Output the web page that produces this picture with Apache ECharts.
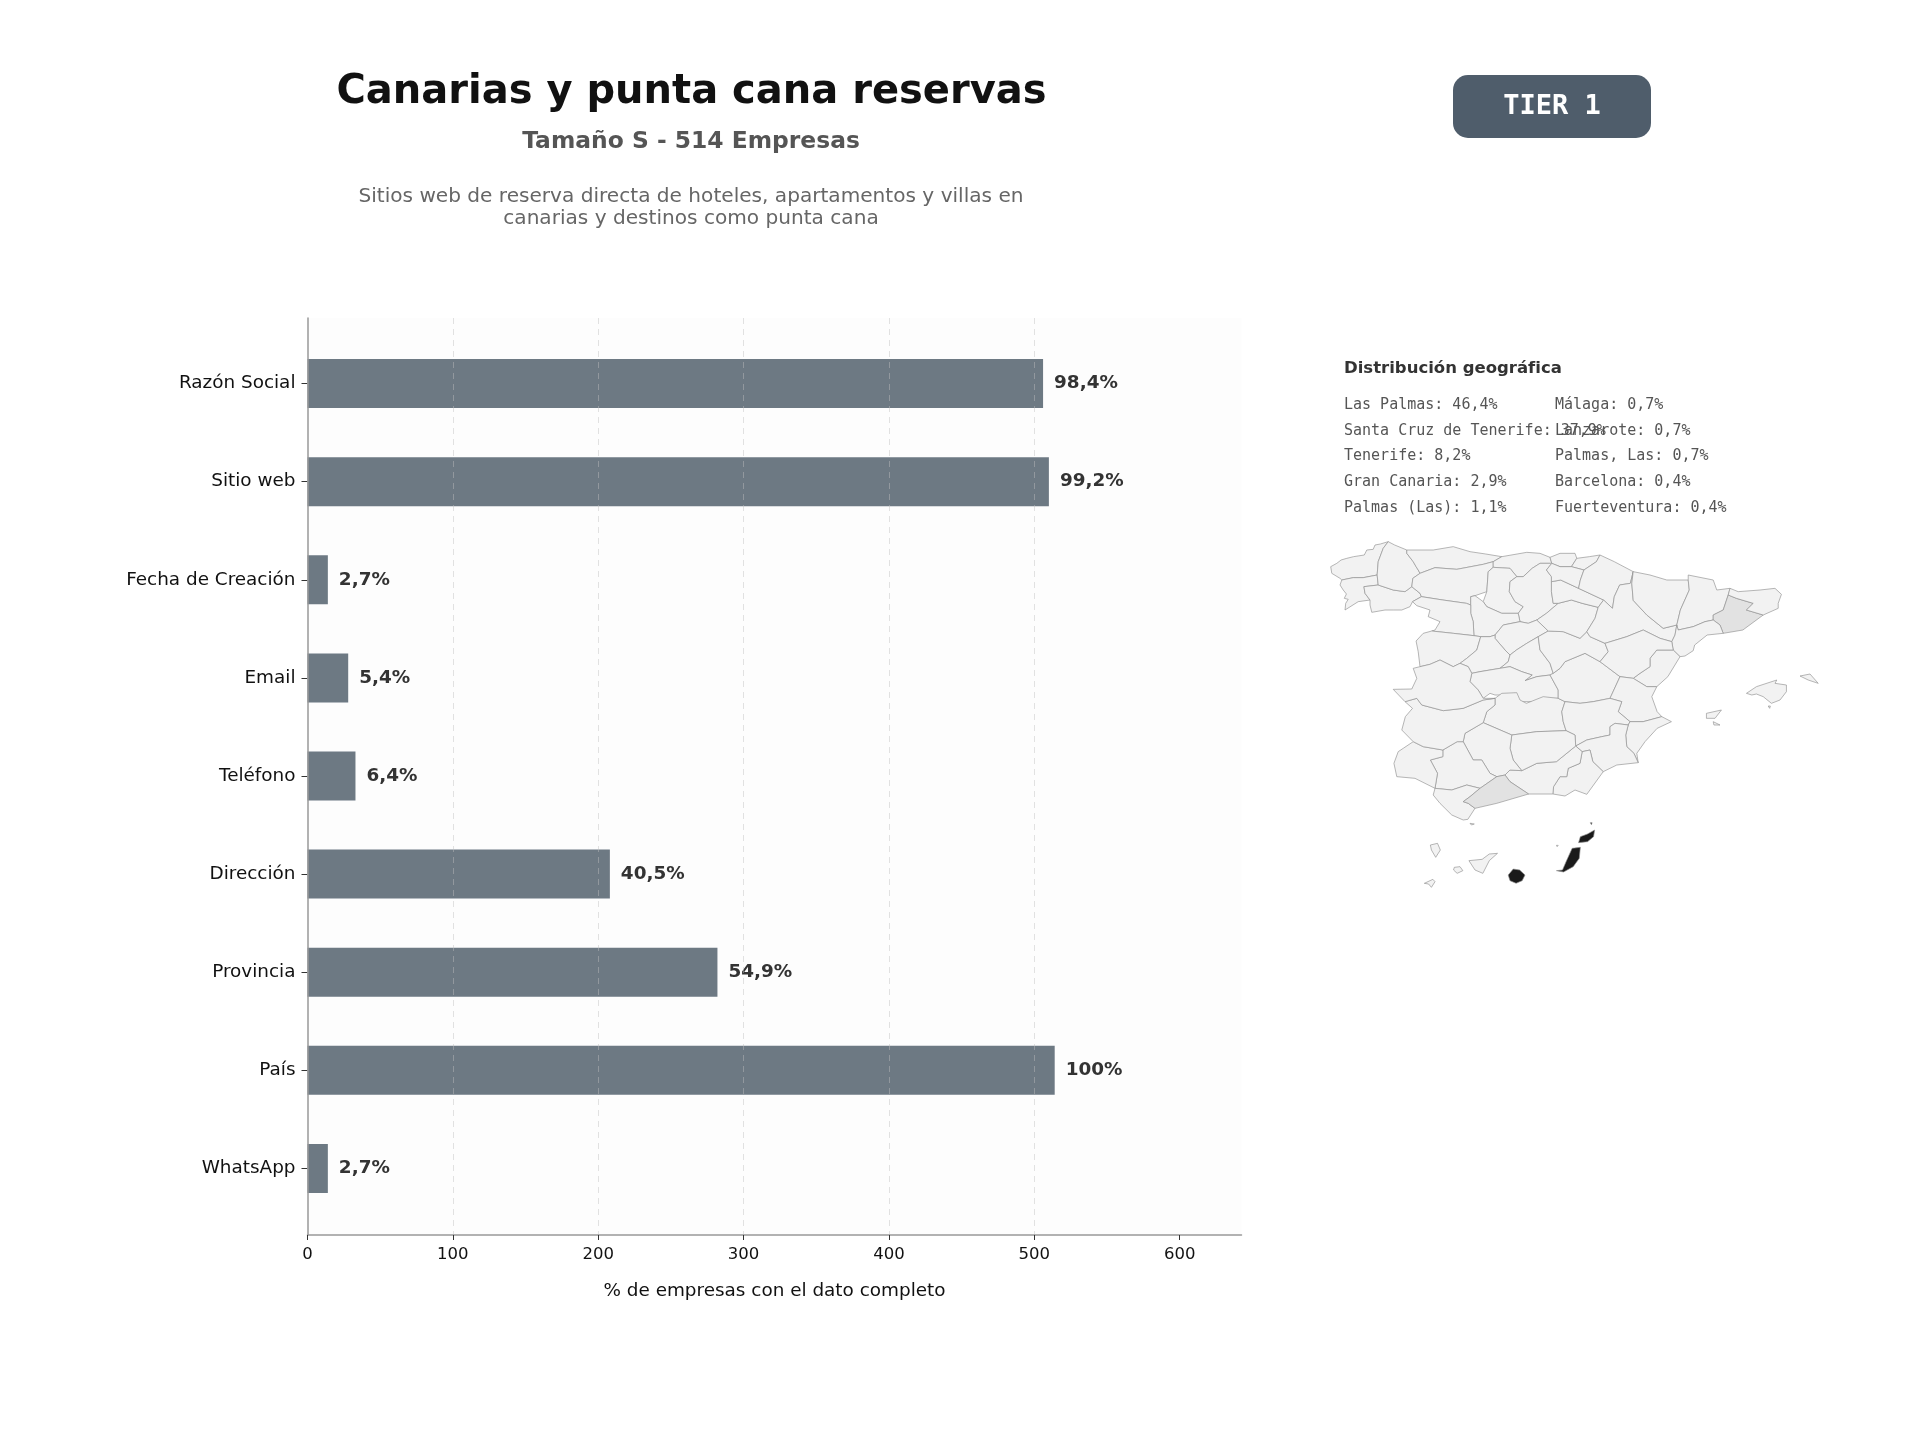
<!DOCTYPE html>
<html lang="es">
<head>
<meta charset="utf-8">
<title>Canarias y punta cana reservas</title>
<style>html,body{margin:0;padding:0;background:#fff}#chart{width:1920px;height:1440px}</style>
<script src="https://cdn.jsdelivr.net/npm/echarts@6/dist/echarts.min.js"></script>
</head>
<body>
<div id="chart"></div>
<script>
// Field coverage
const totalCompanies = 514;
const fieldNames = ['Razón Social','Sitio web','Fecha de Creación','Email','Teléfono','Dirección','Provincia','País','WhatsApp'];
const fieldCounts = [506,510,14,28,33,208,282,514,14];
const axisTicks = [0,100,200,300,400,500,600];

// Geographic distribution, two columns of text
const geoLeftNames = ['Las Palmas','Santa Cruz de Tenerife','Tenerife','Gran Canaria','Palmas (Las)'];
const geoLeftShares = ['46,4','37,9','8,2','2,9','1,1'];
const geoRightNames = ['Málaga','Lanzarote','Palmas, Las','Barcelona','Fuerteventura'];
const geoRightShares = ['0,7','0,7','0,7','0,4','0,4'];

// Provinces shaded on the map
const shadedProvinces = ['Las Palmas','Málaga','Barcelona'];
const shadedShares = [46.4,0.7,0.4];

// Simplified province outlines in map units (x east, y south); each entry is a list of rings
const provinces = {
'A Coruña':[[[247,65],[225,72],[210,75],[205,88],[187,90],[180,105],[150,110],[131,115],[115,120],[103,130],[86,140],[89,160],[112,175],[117,180],[149,173],[177,173],[216,165],[219,125],[233,85]]],
'Pontevedra':[[[117,180],[112,195],[121,210],[130,222],[124,235],[135,238],[128,250],[126,270],[163,245],[196,240],[182,220],[179,200],[219,195],[216,165],[177,173],[149,173]]],
'Ourense':[[[179,200],[219,195],[261,210],[294,215],[313,200],[336,220],[340,230],[315,245],[308,260],[285,270],[261,270],[238,270],[201,277],[196,255],[196,240],[182,220]]],
'Lugo':[[[247,65],[265,75],[299,90],[299,100],[317,125],[325,140],[331,150],[336,160],[316,175],[313,200],[294,215],[261,210],[219,195],[216,165],[219,125],[233,85]]],
'Asturias':[[[299,90],[373,90],[429,80],[476,95],[520,102],[565,110],[541,125],[513,133],[439,148],[378,143],[336,160],[331,150],[325,140],[317,125],[299,100]]],
'León':[[[336,160],[378,143],[439,148],[513,133],[541,125],[541,142],[527,155],[523,215],[490,227],[478,230],[478,255],[466,250],[400,240],[340,230],[336,220],[313,200],[316,175]]],
'Cantabria':[[[565,110],[635,97],[672,100],[700,112],[705,130],[672,130],[650,145],[625,170],[607,170],[588,145],[541,142],[541,125]]],
'Palencia':[[[541,142],[588,145],[607,170],[588,185],[586,215],[602,245],[625,260],[611,280],[565,280],[523,260],[513,245],[523,215],[527,155]]],
'Burgos':[[[625,170],[650,145],[672,130],[705,130],[690,150],[704,170],[704,185],[704,215],[709,250],[723,250],[690,280],[663,300],[639,310],[616,305],[611,280],[625,260],[602,245],[586,215],[588,185],[607,170]]],
'Valladolid':[[[478,230],[490,227],[513,245],[523,260],[565,280],[611,280],[616,305],[569,315],[546,345],[532,350],[506,350],[487,347],[485,305],[478,280],[478,255]]],
'Zamora':[[[315,245],[340,230],[400,240],[466,250],[478,255],[478,280],[485,305],[487,347],[429,340],[369,333],[378,330],[392,305],[359,290],[364,270],[327,257]]],
'Salamanca':[[[369,333],[429,340],[487,347],[506,350],[495,390],[467,415],[448,430],[429,440],[392,420],[364,433],[336,440],[331,395],[325,363],[345,340]]],
'Segovia':[[[616,305],[639,310],[663,300],[695,333],[667,350],[635,370],[606,390],[588,405],[574,390],[546,355],[546,345],[569,315]]],
'Ávila':[[[546,355],[574,390],[588,405],[583,425],[560,445],[504,455],[481,460],[471,440],[448,430],[467,415],[495,390],[506,350],[532,350],[546,345]]],
'Madrid':[[[667,350],[672,390],[700,430],[709,460],[700,465],[663,470],[630,482],[650,465],[621,455],[588,440],[560,445],[583,425],[588,405],[606,390],[635,370]]],
'Toledo':[[[481,460],[504,455],[560,445],[588,440],[621,455],[650,465],[630,482],[663,470],[700,465],[723,510],[723,535],[690,535],[653,545],[611,545],[602,520],[565,525],[546,525],[532,520],[513,535],[499,510],[476,485]]],
'Ciudad Real':[[[546,535],[565,520],[607,518],[616,540],[634,550],[681,530],[723,535],[742,545],[733,575],[737,605],[745,632],[663,635],[593,645],[513,608],[523,575],[546,555]]],
'Cuenca':[[[709,460],[728,445],[742,425],[798,400],[840,425],[896,470],[868,535],[821,545],[784,550],[742,545],[723,535],[723,510],[700,465]]],
'Guadalajara':[[[667,350],[695,333],[737,335],[784,355],[803,335],[812,350],[854,370],[863,395],[840,425],[798,400],[742,425],[728,445],[709,460],[700,430],[672,390]]],
'Soria':[[[663,300],[690,280],[723,250],[760,240],[790,250],[835,262],[826,295],[803,335],[784,355],[737,335],[695,333]]],
'La Rioja':[[[704,185],[730,180],[780,205],[850,240],[835,262],[790,250],[760,240],[723,250],[709,250],[704,215]]],
'Bizkaia':[[[700,112],[728,100],[770,100],[775,115],[760,140],[728,140],[705,130]]],
'Gipuzkoa':[[[775,115],[810,110],[840,105],[830,125],[795,150],[760,140]]],
'Álava':[[[705,130],[728,140],[760,140],[795,150],[785,180],[780,205],[730,180],[704,185],[704,170],[690,150]]],
'Navarra':[[[840,105],[880,125],[933,155],[925,190],[895,195],[880,230],[875,265],[850,240],[780,205],[785,180],[795,150],[830,125]]],
'Zaragoza':[[[933,155],[925,190],[895,195],[880,230],[875,265],[850,240],[835,262],[826,295],[803,335],[812,350],[854,370],[915,350],[961,330],[1008,355],[1041,365],[1050,345],[1055,315],[1017,325],[971,285],[933,241],[929,190]]],
'Huesca':[[[933,155],[980,165],[1027,180],[1087,180],[1090,210],[1065,270],[1055,315],[1017,325],[971,285],[933,241],[929,190]]],
'Lleida':[[[1087,165],[1157,180],[1167,210],[1204,205],[1199,225],[1185,270],[1157,285],[1157,300],[1134,305],[1101,320],[1059,330],[1055,315],[1065,270],[1090,210],[1087,180]]],
'Barcelona':[[[1199,225],[1222,235],[1269,250],[1250,270],[1297,285],[1240,330],[1185,340],[1176,315],[1157,300],[1157,285],[1185,270]]],
'Girona':[[[1204,205],[1227,215],[1288,210],[1330,205],[1348,223],[1339,250],[1339,265],[1297,285],[1250,270],[1269,250],[1222,235],[1199,225]]],
'Tarragona':[[[1059,330],[1101,320],[1134,305],[1157,300],[1176,315],[1185,340],[1140,345],[1105,375],[1101,392],[1078,408],[1064,410],[1045,390],[1041,365],[1050,345],[1055,315]]],
'Castellón':[[[1045,390],[999,390],[980,415],[980,440],[952,460],[933,475],[971,500],[999,500],[1030,470],[1064,410]]],
'Teruel':[[[854,370],[915,350],[961,330],[1008,355],[1041,365],[1045,390],[999,390],[980,415],[980,440],[952,460],[933,475],[896,470],[840,425],[863,395]]],
'Valencia':[[[896,470],[933,475],[971,500],[999,500],[985,530],[1000,575],[1013,590],[961,605],[924,605],[891,575],[901,545],[868,535]]],
'Albacete':[[[742,545],[784,550],[821,545],[868,535],[901,545],[891,575],[924,605],[919,615],[882,610],[868,620],[868,645],[845,650],[803,660],[772,678],[770,645],[745,632],[737,605],[733,575]]],
'Alicante':[[[924,605],[961,605],[1013,590],[1040,605],[1000,625],[966,665],[943,700],[947,728],[935,700],[915,680],[912,645],[919,615]]],
'Murcia':[[[919,615],[912,645],[915,680],[935,700],[947,728],[887,735],[849,755],[820,725],[812,690],[790,695],[772,678],[803,660],[845,650],[868,645],[868,620],[882,610]]],
'Almería':[[[790,695],[812,690],[820,725],[849,755],[803,823],[770,810],[742,828],[708,822],[710,800],[728,770],[747,770],[751,745],[784,730]]],
'Granada':[[[588,750],[621,752],[663,730],[718,725],[772,678],[790,695],[784,730],[751,745],[747,770],[728,770],[710,800],[708,822],[640,822],[588,785],[574,765]]],
'Jaén':[[[593,645],[663,635],[745,632],[770,645],[772,678],[718,725],[663,730],[621,752],[597,720],[588,685]]],
'Córdoba':[[[513,608],[593,645],[588,685],[597,720],[621,752],[588,750],[574,765],[551,770],[532,760],[509,720],[485,720],[457,665],[462,640]]],
'Sevilla':[[[400,690],[440,665],[457,665],[485,720],[509,720],[532,760],[551,770],[504,805],[467,795],[425,810],[378,805],[385,760],[365,720],[400,710]]],
'Huelva':[[[317,665],[345,680],[400,690],[400,710],[365,720],[385,760],[378,805],[322,775],[271,770],[263,730],[275,695],[289,685]]],
'Badajoz':[[[294,545],[327,535],[341,555],[401,572],[457,565],[513,540],[546,535],[546,555],[523,575],[513,608],[462,640],[457,665],[440,665],[400,690],[345,680],[317,665],[285,630],[295,590],[315,565]]],
'Cáceres':[[[261,508],[313,507],[327,475],[317,445],[336,440],[364,433],[392,420],[429,440],[448,430],[471,440],[481,460],[476,485],[499,510],[513,535],[546,535],[513,540],[457,565],[401,572],[341,555],[327,535],[294,545]]],
'Cádiz':[[[378,805],[425,810],[467,795],[504,805],[476,830],[457,845],[471,850],[490,865],[470,898],[457,900],[425,885],[392,850],[373,825]]],
'Málaga':[[[504,805],[551,770],[574,765],[588,785],[640,822],[551,850],[490,865],[471,850],[457,845],[476,830]]],
'Baleares':[
  [[1250,520],[1278,500],[1335,480],[1330,490],[1362,495],[1362,515],[1344,540],[1320,550],[1297,530],[1278,522],[1265,525]],
  [[1400,468],[1428,462],[1451,490],[1423,480]],
  [[1138,580],[1180,570],[1162,595],[1138,595]],
  [[1157,605],[1176,615],[1159,615]],
  [[1311,558],[1317,558],[1315,565]]],
'Ceuta':[[[476,910],[488,912],[480,915]]],
'Melilla':[[[718,976],[723,976],[720,980]]],
'Santa Cruz de Tenerife':[
  [[365,975],[385,970],[393,990],[380,1012],[368,990]],
  [[432,1042],[448,1040],[456,1052],[440,1060],[430,1050]],
  [[473,1022],[510,1018],[530,1002],[553,1000],[530,1022],[512,1060],[490,1050]],
  [[348,1090],[372,1078],[378,1085],[368,1102],[360,1092]]],
'Las Palmas':[
  [[583,1065],[597,1047],[615,1050],[630,1065],[622,1082],[605,1090],[588,1082]],
  [[718,1052],[735,1050],[745,1025],[762,985],[785,982],[782,1015],[765,1040],[738,1056]],
  [[780,968],[785,950],[805,942],[825,930],[822,950],[805,965]],
  [[813,908],[818,908],[816,914]]]
};

const toFeature = (name, rings) => ({
  type: 'Feature',
  properties: { name },
  geometry: {
    type: 'MultiPolygon',
    coordinates: rings.map(r => [r.map(p => [p[0], -p[1]])])
  }
});
echarts.registerMap('provincias', {
  type: 'FeatureCollection',
  features: Object.keys(provinces).map(n => toFeature(n, provinces[n]))
});

const pctLabel = c => {
  const p = c / totalCompanies * 100;
  return (p === 100 ? '100' : p.toFixed(1).replace('.', ',')) + '%';
};
const shadeFor = v => (v >= 10 ? '#1a1a1a' : '#e2e2e2');

const sans = '"DejaVu Sans"';
const mono = '"DejaVu Sans Mono"';

const listText = (names, shares, x, ys) => names.map((n, i) => ({
  type: 'text', x, y: ys[i], silent: true,
  style: { text: n + ': ' + shares[i] + '%', font: '15px ' + mono, fill: '#555', textVerticalAlign: 'middle' }
}));
const rowsY = [405, 431, 456, 482, 508];

const chart = echarts.init(document.getElementById('chart'), null, { renderer: 'canvas', width: 1920, height: 1440 });
chart.setOption({
  backgroundColor: '#ffffff',
  animation: false,
  title: [
    { text: 'Canarias y punta cana reservas', left: 686.5, top: 88, textAlign: 'center', textVerticalAlign: 'middle',
      textStyle: { fontFamily: sans, fontSize: 40, fontWeight: 'bold', color: '#111' } },
    { text: 'Tamaño S - 514 Empresas', left: 686, top: 137, textAlign: 'center', textVerticalAlign: 'middle',
      textStyle: { fontFamily: sans, fontSize: 23.4, fontWeight: 'bold', color: '#555' } }
  ],
  grid: [
    { left: 307.5, width: 934, top: 318, height: 917, show: true, backgroundColor: '#fdfdfd', borderWidth: 0 },
    { left: 307.5, width: 934, top: 334.5, height: 883 }
  ],
  xAxis: [
    { gridIndex: 0, type: 'value', min: 0, max: 642.5, interval: 100, z: 3,
      axisLine: { show: true, onZero: false, lineStyle: { color: '#999', width: 1.5 } },
      axisTick: { show: true, length: 5, customValues: axisTicks, lineStyle: { color: '#333', width: 1 } },
      axisLabel: { fontFamily: sans, fontSize: 16.5, color: '#111', margin: 11, customValues: axisTicks },
      splitLine: { show: true, showMinLine: false, showMaxLine: false, lineStyle: { type: [6, 5], color: 'rgba(190,190,190,0.45)', width: 1 } },
      name: '% de empresas con el dato completo', nameLocation: 'middle', nameGap: 47,
      nameTextStyle: { fontFamily: sans, fontSize: 18.4, color: '#111' } },
    { gridIndex: 1, type: 'value', min: 0, max: 642.5, show: false, splitLine: { show: false } }
  ],
  yAxis: [
    { gridIndex: 0, type: 'value', min: 0, max: 1, z: 3,
      axisLine: { show: true, lineStyle: { color: '#999', width: 1.5 } },
      axisTick: { show: false }, axisLabel: { show: false }, splitLine: { show: false } },
    { gridIndex: 1, type: 'category', inverse: true, data: fieldNames,
      axisLine: { show: false },
      axisTick: { show: true, alignWithLabel: true, length: 6, lineStyle: { color: '#333', width: 1 } },
      axisLabel: { fontFamily: sans, fontSize: 18.4, color: '#111', margin: 12, padding: [5, 0, 0, 0] },
      splitLine: { show: false } }
  ],
  series: [
    { type: 'bar', xAxisIndex: 1, yAxisIndex: 1, data: fieldCounts, barWidth: 49,
      itemStyle: { color: '#6d7983' }, silent: true,
      label: { show: true, position: 'right', distance: 11, formatter: p => pctLabel(p.value),
        fontFamily: sans, fontSize: 18.4, fontWeight: 'bold', color: '#333' } },
    { type: 'map', map: 'provincias', left: 1300, top: 520, width: 560, height: 380,
      boundingCoords: [[0, 0], [1568, -1140]], aspectScale: 1.0714, silent: true,
      label: { show: false },
      itemStyle: { areaColor: '#f2f2f2', borderColor: '#909090', borderWidth: 0.65 },
      data: shadedProvinces.map((name, i) => ({
        name, value: shadedShares[i], itemStyle: { areaColor: shadeFor(shadedShares[i]) }
      })) }
  ],
  graphic: [
    { type: 'rect', silent: true, shape: { x: 1453, y: 75, width: 198, height: 63, r: 15 },
      style: { fill: '#4f5d6b' } },
    { type: 'text', x: 1552, y: 106.5, silent: true,
      style: { text: 'TIER 1', font: 'bold 27px ' + mono, fill: '#fff', textAlign: 'center', textVerticalAlign: 'middle' } },
    { type: 'text', x: 691, y: 197, silent: true,
      style: { text: 'Sitios web de reserva directa de hoteles, apartamentos y villas en', font: '20.1px ' + sans, fill: '#666', textAlign: 'center', textVerticalAlign: 'middle' } },
    { type: 'text', x: 691, y: 219, silent: true,
      style: { text: 'canarias y destinos como punta cana', font: '20.1px ' + sans, fill: '#666', textAlign: 'center', textVerticalAlign: 'middle' } },
    { type: 'text', x: 1344, y: 369, silent: true,
      style: { text: 'Distribución geográfica', font: 'bold 16.5px ' + sans, fill: '#333', textVerticalAlign: 'middle' } },
    ...listText(geoLeftNames, geoLeftShares, 1344, rowsY),
    ...listText(geoRightNames, geoRightShares, 1555, rowsY)
  ]
});
</script>
</body>
</html>
